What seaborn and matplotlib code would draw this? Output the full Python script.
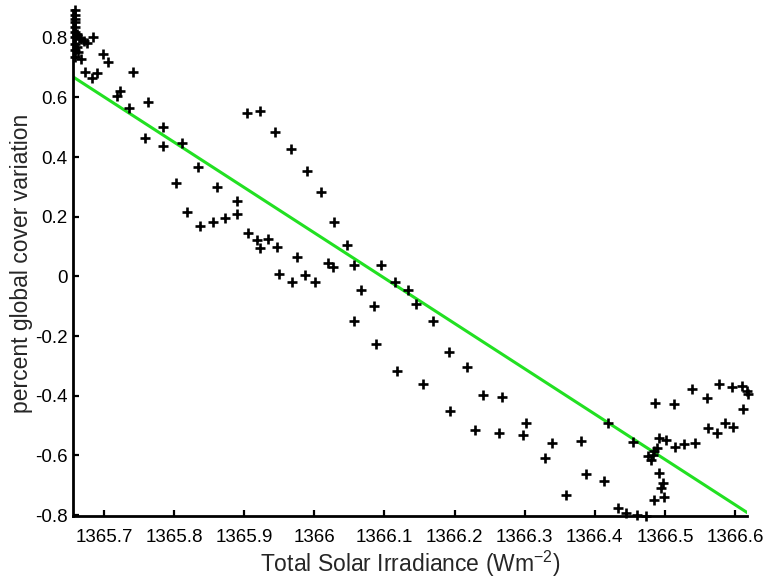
import matplotlib
matplotlib.use("Agg")
import matplotlib.pyplot as plt
import seaborn as sns
import pandas as pd

# ---- data ----
tsi = [1365.6582, 1365.6582, 1365.6591, 1365.6591, 1365.6582, 1365.6582, 1365.6615, 1365.6591,
       1365.6639, 1365.6676, 1365.6710, 1365.6757, 1365.6850, 1365.6591, 1365.6615, 1365.6582,
       1365.6629, 1365.6591, 1365.6672, 1365.6981, 1365.7064, 1365.6732, 1365.6822, 1365.6907,
       1365.7414, 1365.7228, 1365.7181, 1365.7357, 1365.7632, 1365.7846, 1365.7585, 1365.7846,
       1365.8108, 1365.8345, 1365.8608, 1365.8902, 1365.8902, 1365.8369, 1365.8551, 1365.8722,
       1365.9058, 1365.9187, 1365.9335, 1365.9225, 1365.9472, 1365.9749, 1365.9496, 1365.9678,
       1365.9872, 1366.0010, 1366.0200, 1366.0271, 1365.9036, 1365.9230, 1365.9439, 1365.9672,
       1365.9892, 1366.0096, 1366.0285, 1366.0462, 1366.0571, 1366.0947, 1366.1151, 1366.0662,
       1366.0856, 1366.1341, 1366.1451, 1366.0571, 1366.1689, 1366.0880, 1366.1922, 1366.2174,
       1366.1175, 1366.1551, 1366.2402, 1366.2673, 1366.1940, 1366.2292, 1366.2639, 1366.2981,
       1366.3016, 1366.3295, 1366.3395, 1366.3805, 1366.3586, 1366.3872, 1366.4137, 1366.4185,
       1366.4551, 1366.4337, 1366.4446, 1366.4599, 1366.4732, 1366.4860, 1366.5131, 1366.5392,
       1366.5598, 1366.5777, 1366.5963, 1366.6097, 1366.6168, 1366.6191, 1366.6111, 1366.5859,
       1366.5977, 1366.5612, 1366.5740, 1366.4917, 1366.5013, 1366.5146, 1366.5278, 1366.5431,
       1366.4893, 1366.4850, 1366.4765, 1366.4827, 1366.4799, 1366.4922, 1366.4970, 1366.4946,
       1366.4989, 1366.4850, 1365.8023, 1365.8188]

cover = [0.8918, 0.8773, 0.8639, 0.8528, 0.8360, 0.8192, 0.8134, 0.8024,
         0.7990, 0.7966, 0.7876, 0.7832, 0.8034, 0.7798, 0.7687, 0.7573,
         0.7519, 0.7351, 0.7271, 0.7462, 0.7193, 0.6867, 0.6645, 0.6824,
         0.6867, 0.6229, 0.6061, 0.5637, 0.5839, 0.4998, 0.4629, 0.4380,
         0.4460, 0.3654, 0.2982, 0.2531, 0.2084, 0.1691, 0.1839, 0.1973,
         0.1469, 0.1220, 0.1244, 0.0965, 0.0985, 0.0649, 0.0091, -0.0192,
         0.0034, -0.0192, 0.0460, 0.0313, 0.5479, 0.5546, 0.4830, 0.4269,
         0.3529, 0.2834, 0.1825, 0.1052, 0.0370, 0.0380, -0.0192, -0.0460,
         -0.0998, -0.0460, -0.0918, -0.1503, -0.1479, -0.2276, -0.2531, -0.3049,
         -0.3170, -0.3597, -0.3990, -0.4057, -0.4504, -0.5143, -0.5244, -0.5301,
         -0.4918, -0.6074, -0.5570, -0.5503, -0.7328, -0.6622, -0.6847, -0.4918,
         -0.5536, -0.7755, -0.7943, -0.8000, -0.8030, -0.4245, -0.4269, -0.3775,
         -0.4077, -0.3607, -0.3708, -0.3664, -0.3832, -0.3943, -0.4447, -0.4918,
         -0.5032, -0.5066, -0.5234, -0.5422, -0.5479, -0.5704, -0.5613, -0.5590,
         -0.5758, -0.5839, -0.6017, -0.5983, -0.6151, -0.6598, -0.6934, -0.7082,
         -0.7385, -0.7496, 0.3126, 0.2161]

fit_x = [1365.6558, 1366.6177]
fit_y = [0.669, -0.792]

x_ticks = [1365.7, 1365.8, 1365.9, 1366.0, 1366.1, 1366.2, 1366.3, 1366.4, 1366.5, 1366.6]
x_tick_labels = ["1365.7", "1365.8", "1365.9", "1366", "1366.1", "1366.2",
                 "1366.3", "1366.4", "1366.5", "1366.6"]
y_ticks = [-0.8, -0.6, -0.4, -0.2, 0.0, 0.2, 0.4, 0.6, 0.8]
y_tick_labels = ["-0.8", "-0.6", "-0.4", "-0.2", "0", "0.2", "0.4", "0.6", "0.8"]

df = pd.DataFrame({"tsi": tsi, "cover": cover})
fit = pd.DataFrame({"x": fit_x, "y": fit_y})

# ---- style ----
sns.set_style("ticks")
plt.rcParams["font.family"] = ["Liberation Sans", "DejaVu Sans"]
plt.rcParams["axes.unicode_minus"] = False

fig = plt.figure(figsize=(7.67, 5.79), dpi=100)
ax = fig.add_axes([73 / 767, 63 / 579, (746.7 - 73) / 767, (516 - 10) / 579])

sns.lineplot(data=fit, x="x", y="y", ax=ax, color="#22e022", linewidth=2.2,
             zorder=2)
sns.scatterplot(data=df, x="tsi", y="cover", ax=ax, marker="+", color="black",
                s=60, linewidth=1.9, zorder=3, clip_on=False)

ax.set_xlim(1365.6558, 1366.6167)
ax.set_ylim(-0.803, 0.893)
ax.set_xticks(x_ticks)
ax.set_xticklabels(x_tick_labels)
ax.set_yticks(y_ticks)
ax.set_yticklabels(y_tick_labels)

ax.tick_params(axis="both", direction="in", length=4.5, width=1.6,
               labelsize=13.5, color="black", labelcolor="black")
ax.tick_params(axis="x", pad=9.5)
ax.tick_params(axis="y", pad=4)

for side in ["top", "right"]:
    ax.spines[side].set_visible(False)
for side in ["left", "bottom"]:
    ax.spines[side].set_linewidth(2.0)
    ax.spines[side].set_color("black")

ax.set_xlabel("Total Solar Irradiance (Wm$^{\\mathregular{-2}}$)", fontsize=16.5,
              labelpad=2)
ax.set_ylabel("percent global cover variation", fontsize=16.5, labelpad=1)

fig.savefig("out.png", dpi=100)
